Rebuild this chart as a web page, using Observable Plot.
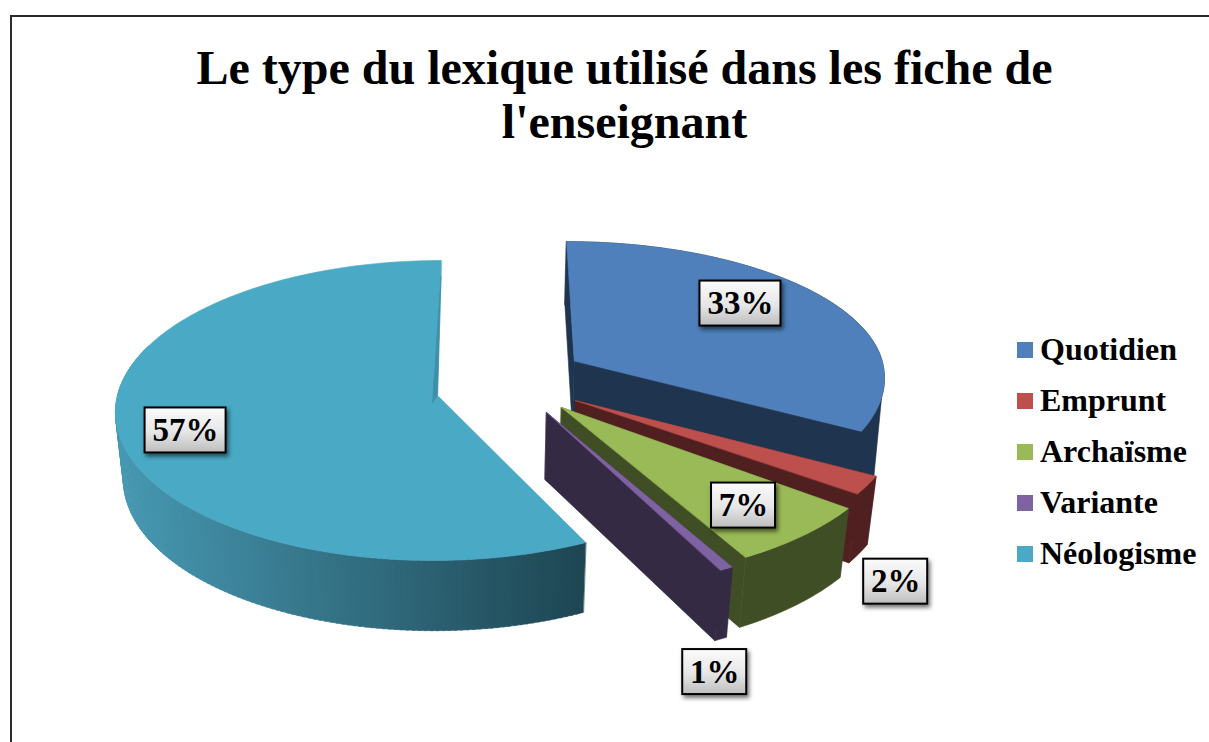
<!DOCTYPE html>
<html lang="fr">
<head>
<meta charset="utf-8">
<title>Le type du lexique</title>
<script src="https://cdn.jsdelivr.net/npm/d3@7"></script>
<script src="https://cdn.jsdelivr.net/npm/@observablehq/plot@0.6"></script>
<style>
html,body{margin:0;padding:0;background:#fff;overflow:hidden}
.box-shadow{filter:drop-shadow(2px 3px 2px rgba(0,0,0,.55))}
</style>
</head>
<body>
<div id="chart"></div>
<script>
// Data
const titleLines = ["Le type du lexique utilisé dans les fiche de", "l'enseignant"];
const categories = ["Quotidien", "Emprunt", "Archaïsme", "Variante", "Néologisme"];
const percents = [33, 2, 7, 1, 57];

// Styles
const topColors = ["#4f80bc", "#bd4f4c", "#9aba57", "#7f62a1", "#4aa9c4"];
const wallColors = ["#1f344f", "#4f201f", "#404e25", "#352a43", "#2f6f85"];
const neoWallLight = "#4798b2", neoWallDark = "#1e4653";

// Perspective model of the exploded pie
const vx = 480, hy = -1090, H = 1485, T = 101, k = 0.1, dz = 0.022, R = 320;
const explodeX = [96, 94.7, 80.4, 65.3, -43];
const explodeV = [-0.24, 0.034, 0.08, 0.113, 0];
const radiusScale = [0.985, 1, 1.03, 1.05, 1];
const backScale = [0.93, 1, 1, 1, 1];
const startShift = [0, 0, 1.5, 0.3, -0.5];
const endShift = [0, 0, 0, -1.2, 0];
const labelU = [0.566, 0.857, 0.514, 0.413, -0.766];
const labelV = [-0.42, 1.08, 0.61, 1.457, 0.23];

function project(i, u, v, bottom) {
  const X = explodeX[i] + R * u;
  const D = 1 - k * (explodeV[i] + v) + (bottom ? dz : 0);
  return [vx + X / D, hy + (bottom ? H + T : H) / D];
}
function rim(i, deg, bottom) {
  const a = deg * Math.PI / 180, r = radiusScale[i];
  const v = -r * Math.cos(a);
  return project(i, r * Math.sin(a), v < 0 ? v * backScale[i] : v, bottom);
}
function arc(i, a0, a1, bottom) {
  const n = Math.max(2, Math.ceil(Math.abs(a1 - a0)));
  return d3.range(n + 1).map(j => rim(i, a0 + (a1 - a0) * j / n, bottom));
}

// Slices turned into polygons, painted back to front
const polygons = [];
function addPoly(points, color) {
  polygons.push({id: polygons.length, points, color});
}
const cum = d3.cumsum(percents);
const startAngle = i => (i === 0 ? 0 : cum[i - 1]) * 3.6 + startShift[i];
const endAngle = i => cum[i] * 3.6 + endShift[i];

function addSlice(i) {
  const a0 = startAngle(i), a1 = endAngle(i);
  const apexT = project(i, 0, 0, false), apexB = project(i, 0, 0, true);
  if (i === 4) {
    // Outer wall shaded left to right; its back part is hidden behind the top face.
    const stop = a0 + (a1 - a0) * 0.66;
    const n = Math.ceil(stop - a0);
    d3.range(n).forEach(j => {
      const b0 = a0 + (stop - a0) * j / n, b1 = a0 + (stop - a0) * (j + 1) / n;
      const p = rim(i, b0, false);
      const f = Math.max(0, Math.min(1, (p[0] - 120) / 463));
      addPoly([rim(i, b0, false), rim(i, b1 + .3, false), rim(i, b1 + .3, true), rim(i, b0, true)],
        d3.interpolateRgb(neoWallLight, neoWallDark)(f));
    });
  } else {
    addPoly([...arc(i, a0, a1, false), ...arc(i, a1, a0, true)], wallColors[i]);
    addPoly([apexT, rim(i, a0, false), rim(i, a0, true), apexB], wallColors[i]);
    addPoly([apexT, rim(i, a1, false), rim(i, a1, true), apexB], wallColors[i]);
    if (i === 0) {
      // The front corner of this wall runs straighter than the arc beneath it.
      addPoly([rim(i, 105, false), project(i, 0.93, 0.42, true), rim(i, a1, true), rim(i, a1, false)], wallColors[i]);
    }
  }
  addPoly([apexT, ...arc(i, a0, a1, false)], topColors[i]);
  if (i === 4) {
    addPoly([project(i, 0, -0.87, false), project(i, -0.015, 0.05, false), project(i, 0, 0.0, false)], "#3f8fa9");
  }
}
[4, 0, 1, 2, 3].forEach(addSlice);

const polyRows = polygons.flatMap(p => p.points.map(([x, y]) => ({x, y, id: p.id, color: p.color})));

// Labels
const labels = percents.map((p, i) => {
  const [x, y] = project(i, labelU[i], labelV[i], false);
  const w = p >= 10 ? 81 : 64;
  return {x, y, text: `${p}%`, x1: x - w / 2, x2: x + w / 2, y1: y - 22.5, y2: y + 22.5};
});

// Legend
const legendRows = categories.map((c, i) => ({c, color: topColors[i], yc: 350 + i * 51}));

const serif = "'Liberation Serif','Times New Roman',serif";
const chart = Plot.plot({
  width: 1209, height: 742,
  marginTop: 0, marginRight: 0, marginBottom: 0, marginLeft: 0,
  style: {background: "#fff", display: "block"},
  x: {type: "linear", domain: [0, 1209], range: [0, 1209], axis: null},
  y: {type: "linear", domain: [0, 742], range: [0, 742], axis: null},
  color: {type: "identity"},
  marks: [
    () => {
      const defs = d3.create("svg:defs");
      const g = defs.append("linearGradient").attr("id", "labelGrad")
        .attr("x1", 0).attr("y1", 0).attr("x2", 0).attr("y2", 1);
      g.append("stop").attr("offset", "0%").attr("stop-color", "#fbfbfb");
      g.append("stop").attr("offset", "55%").attr("stop-color", "#e6e6e6");
      g.append("stop").attr("offset", "100%").attr("stop-color", "#bdbdbd");
      return defs.node();
    },
    Plot.ruleY([15.5], {x1: 10, x2: 1209, stroke: "#2b2b2b", strokeWidth: 2}),
    Plot.ruleX([10.5], {y1: 15, y2: 742, stroke: "#2b2b2b", strokeWidth: 2}),
    Plot.text(titleLines, {
      x: () => 624, y: (d, i) => 68 + i * 54, text: d => d,
      fontFamily: serif, fontWeight: "bold", fontSize: 48, fill: "#000",
      textAnchor: "middle", lineAnchor: "middle"
    }),
    Plot.line(polyRows, {
      x: "x", y: "y", z: "id", fill: "color", stroke: "color",
      strokeWidth: 0.6, curve: "linear-closed"
    }),
    Plot.rect(labels, {
      x1: "x1", x2: "x2", y1: "y1", y2: "y2",
      fill: "url(#labelGrad)", stroke: "#000", strokeWidth: 2, className: "box-shadow"
    }),
    Plot.text(labels, {
      x: "x", y: "y", text: "text",
      fontFamily: serif, fontWeight: "bold", fontSize: 33, fill: "#000",
      textAnchor: "middle", lineAnchor: "middle"
    }),
    Plot.rect(legendRows, {
      x1: () => 1017, x2: () => 1033,
      y1: d => d.yc - 8, y2: d => d.yc + 8, fill: "color"
    }),
    Plot.text(legendRows, {
      x: () => 1039.5, y: d => d.yc - 1, text: "c",
      fontFamily: serif, fontWeight: "bold", fontSize: 32, fill: "#000",
      textAnchor: "start", lineAnchor: "middle"
    })
  ]
});
document.getElementById("chart").append(chart);
</script>
</body>
</html>
